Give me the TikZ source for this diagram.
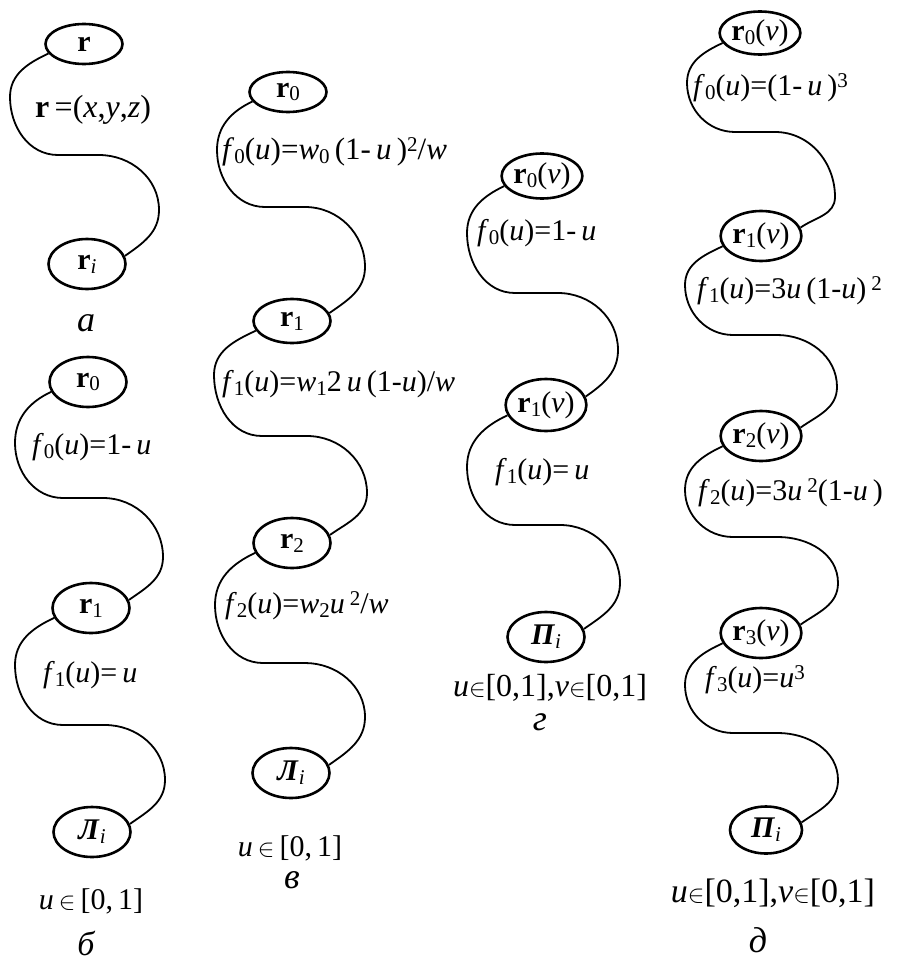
\documentclass[tikz,border=0pt]{standalone}
\usepackage{fontspec}
\setmainfont{Liberation Serif}
\usetikzlibrary{shapes.geometric}
\newcommand\sbs[1]{\raisebox{-0.28ex}{\fontsize{21}{21}\selectfont #1}}
\newcommand\sps[1]{\raisebox{0.6ex}{\fontsize{21}{21}\selectfont #1}}
\newcommand\scurve[7]{\draw[wire] (#1.195) to[out=205,in=90] (#3,-#4) to[out=-90,in=180] ({#3+48},-#5) -- ({#6-60},-#5) to[out=0,in=90] (#6,-#7) to[out=-90,in=35] (#2.12);}
\begin{document}
\begin{tikzpicture}[x=1pt,y=1pt,
  nd/.style={draw, line width=2.6pt, ellipse, inner sep=0pt, minimum width=77pt, minimum height=50pt, font=\fontsize{30}{36}\selectfont},
  wire/.style={line width=1.8pt},
  lbl/.style={inner sep=0pt, anchor=west, font=\fontsize{30}{36}\selectfont},
  rng/.style={inner sep=0pt, font=\fontsize{30}{36}\selectfont},
  captxt/.style={inner sep=0pt, font=\fontsize{36}{40}\selectfont\itshape}]
\useasboundingbox (0,0) rectangle (902,-963);
% column a
\node[nd, minimum height=40pt] (a0) at (84,-44) {\textbf{r}};
\node[nd] (a1) at (87,-264) {\textbf{r}\sbs{\textit{i}}};
\scurve{a0}{a1}{10}{97}{155}{159}{210}
\node[lbl, font=\fontsize{32}{36}\selectfont] (la) at (35,-110) {\textbf{r}\,=(\textit{x},\textit{y},\textit{z})};
\node[captxt] (ca) at (86,-323) {а};
% column b
\node[nd] (b0) at (88,-382) {\textbf{r}\sbs{0}};
\node[nd] (b1) at (91,-608) {\textbf{r}\sbs{1}};
\node[nd] (b2) at (92,-832) {\textbf{\textit{Л}}\sbs{\textit{i}}};
\scurve{b0}{b1}{15}{443}{498}{163}{557}
\scurve{b1}{b2}{15}{665}{725}{165}{780}
\node[lbl] (lb0) at (32,-447) {\textit{f}\sbs{0}(\textit{u})=1-\,\textit{u}};
\node[lbl] (lb1) at (43,-675) {\textit{f}\sbs{1}(\textit{u})=\,\textit{u}};
\node[rng] (rb) at (91,-901) {\textit{u}\,$\in$\,[0,\,1]};
\node[captxt, font=\fontsize{34}{38}\selectfont\itshape] (cb) at (86,-943) {б};
% column v
\node[nd, minimum height=40pt] (v0) at (288,-92) {\textbf{r}\sbs{0}};
\node[nd, minimum height=44pt] (v1) at (292,-321) {\textbf{r}\sbs{1}};
\node[nd] (v2) at (292,-543) {\textbf{r}\sbs{2}};
\node[nd] (v3) at (291,-773) {\textbf{\textit{Л}}\sbs{\textit{i}}};
\scurve{v0}{v1}{217}{150}{207}{365}{267}
\scurve{v1}{v2}{214}{375}{436}{367}{493}
\scurve{v2}{v3}{215}{605}{663}{365}{717}
\node[lbl, font=\fontsize{31}{36}\selectfont] (lv0) at (222,-152) {\textit{f}\sbs{0}(\textit{u})=\textit{w}\sbs{0}\,(1-\,\textit{u}\,)\sps{2}/\textit{w}};
\node[lbl] (lv1) at (222,-384) {\textit{f}\sbs{1}(\textit{u})=\textit{w}\sbs{1}2\,\textit{u}\,(1-\textit{u})/\textit{w}};
\node[lbl] (lv2) at (225,-606) {\textit{f}\sbs{2}(\textit{u})=\textit{w}\sbs{2}\textit{u}\,\sps{2}/\textit{w}};
\node[rng] (rv) at (290,-848) {\textit{u}\,$\in$\,[0,\,1]};
\node[captxt] (cv) at (292,-880) {в};
% column g
\node[nd, minimum height=45pt] (g0) at (542,-176) {\textbf{r}\sbs{0}(\textit{v})};
\node[nd, minimum height=52pt] (g1) at (546,-405) {\textbf{r}\sbs{1}(\textit{v})};
\node[nd] (g2) at (546,-637) {\textbf{\textit{П}}\sbs{\textit{i}}};
\scurve{g0}{g1}{467}{233}{293}{618}{350}
\scurve{g1}{g2}{467}{467}{525}{620}{583}
\node[lbl] (lg0) at (477,-233) {\textit{f}\sbs{0}(\textit{u})=1-\,\textit{u}};
\node[lbl] (lg1) at (495,-472) {\textit{f}\sbs{1}(\textit{u})=\,\textit{u}};
\node[rng, font=\fontsize{32}{36}\selectfont] (rg) at (550,-688) {\textit{u}$\in$[0,1],\textit{v}$\in$[0,1]};
\node[captxt] (cg) at (540,-722) {г};
% column d
\node[nd, minimum height=43pt] (d0) at (760,-33) {\textbf{r}\sbs{0}(\textit{v})};
\node[nd] (d1) at (761,-236) {\textbf{r}\sbs{1}(\textit{v})};
\node[nd] (d2) at (761,-436) {\textbf{r}\sbs{2}(\textit{v})};
\node[nd] (d3) at (761,-633) {\textbf{r}\sbs{3}(\textit{v})};
\node[nd, minimum width=72pt, minimum height=47pt] (d4) at (766,-830) {\textbf{\textit{П}}\sbs{\textit{i}}};
\scurve{d0}{d1}{687}{83}{132}{835}{197}
\scurve{d1}{d2}{685}{285}{335}{837}{387}
\scurve{d2}{d3}{685}{490}{537}{838}{583}
\scurve{d3}{d4}{685}{685}{733}{838}{780}
\node[lbl] (ld0) at (693,-88) {\textit{f}\sbs{0}(\textit{u})=(1-\,\textit{u}\,)\sps{3}};
\node[lbl] (ld1) at (697,-291) {\textit{f}\sbs{1}(\textit{u})=3\textit{u}\,(1-\textit{u})\,\sps{2}};
\node[lbl] (ld2) at (698,-493) {\textit{f}\sbs{2}(\textit{u})=3\textit{u}\,\sps{2}(1-\textit{u}\,)};
\node[lbl] (ld3) at (705,-680) {\textit{f}\sbs{3}(\textit{u})=\textit{u}\sps{3}};
\node[rng, font=\fontsize{34}{38}\selectfont] (rd) at (773,-893) {\textit{u}$\in$[0,1],\textit{v}$\in$[0,1]};
\node[captxt] (cd) at (758,-940) {д};
\end{tikzpicture}
\end{document}
